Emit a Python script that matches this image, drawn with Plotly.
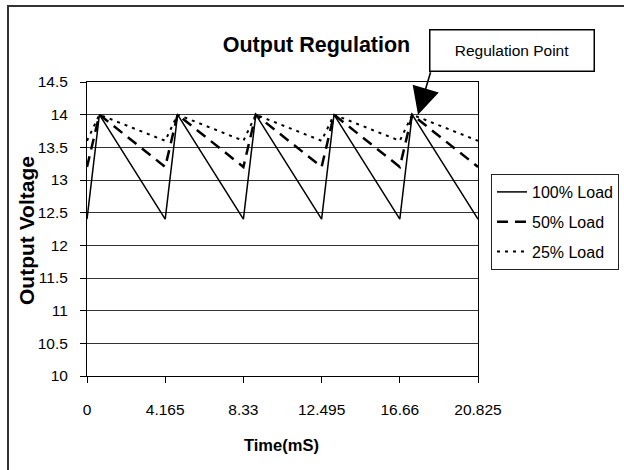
import plotly.graph_objects as go

# ---- data ----
time_ms = [0, 0.66, 4.165, 4.825, 8.33, 8.99, 12.495, 13.155, 16.66, 17.32, 20.825]
load_100 = [12.4, 14.0, 12.4, 14.0, 12.4, 14.0, 12.4, 14.0, 12.4, 14.0, 12.4]
load_50 = [13.2, 14.0, 13.2, 14.0, 13.2, 14.0, 13.2, 14.0, 13.2, 14.0, 13.2]
load_25 = [13.6, 14.0, 13.6, 14.0, 13.6, 14.0, 13.6, 14.0, 13.6, 14.0, 13.6]
x_ticks = [0, 4.165, 8.33, 12.495, 16.66, 20.825]
x_tick_labels = ["0", "4.165", "8.33", "12.495", "16.66", "20.825"]
y_ticks = [10, 10.5, 11, 11.5, 12, 12.5, 13, 13.5, 14, 14.5]
y_tick_labels = ["10", "10.5", "11", "11.5", "12", "12.5", "13", "13.5", "14", "14.5"]
reg_point = (17.63, 14.0)

FONT = "Liberation Sans, Arial, sans-serif"

# pixel geometry of the plot area
W, H = 624, 470
L, R, T, B = 87, 478, 82, 376
pw, ph = R - L, B - T


def px(x):
    return (x - L) / pw


def py(y):
    return (B - y) / ph


fig = go.Figure()
fig.add_trace(go.Scatter(x=time_ms, y=load_100, mode="lines", name="100% Load",
                         legendgroup="a",
                         line=dict(color="black", width=1.5)))
fig.add_trace(go.Scatter(x=time_ms, y=load_50, mode="lines", name="50% Load",
                         legendgroup="b",
                         line=dict(color="black", width=2.5, dash="11px,7px")))
fig.add_trace(go.Scatter(x=time_ms, y=load_25, mode="lines", name="25% Load",
                         legendgroup="c",
                         line=dict(color="black", width=2, dash="3px,5px")))

fig.update_layout(
    width=W, height=H,
    margin=dict(l=L, r=W - R, t=T, b=H - B, autoexpand=False),
    paper_bgcolor="white", plot_bgcolor="white",
    font=dict(family=FONT, color="black", size=15),
    title=dict(text="<b>Output Regulation</b>", xref="paper", yref="container",
               x=px(316.5), y=1 - 44 / H,
               xanchor="center", yanchor="middle",
               font=dict(family=FONT, size=21.5, color="black")),
    showlegend=True,
    legend=dict(x=px(491), y=py(174), xanchor="left", yanchor="top",
                bordercolor="#222", borderwidth=1, bgcolor="white",
                font=dict(family=FONT, size=16, color="black"),
                itemwidth=30, tracegroupgap=6),
    xaxis=dict(range=[0, 20.825], tickmode="array", tickvals=x_ticks,
               ticktext=x_tick_labels, showgrid=False, zeroline=False,
               showline=True, linecolor="black", linewidth=1, mirror=True,
               ticks="outside", ticklen=6, tickcolor="black",
               ticklabelstandoff=13,
               tickfont=dict(family=FONT, size=15.5, color="black")),
    yaxis=dict(range=[10, 14.5], tickmode="array", tickvals=y_ticks,
               ticktext=y_tick_labels, showgrid=True, gridcolor="#333",
               gridwidth=1, zeroline=False,
               showline=True, linecolor="black", linewidth=1, mirror=True,
               ticks="outside", ticklen=6, tickcolor="black",
               ticklabelstandoff=9,
               tickfont=dict(family=FONT, size=15.5, color="black")),
)

# axis titles
fig.add_annotation(text="<b>Time(mS)</b>", xref="paper", yref="paper",
                   x=px(281.5), y=py(445), showarrow=False,
                   xanchor="center", yanchor="middle",
                   font=dict(family=FONT, size=16.5, color="black"))
fig.add_annotation(text="<b>Output Voltage</b>", xref="paper", yref="paper",
                   x=px(26), y=py(231), showarrow=False, textangle=-90,
                   xanchor="center", yanchor="middle",
                   font=dict(family=FONT, size=21, color="black"))

# Regulation point callout box
fig.add_annotation(text="Regulation Point", xref="paper", yref="paper",
                   x=px(511.5), y=py(50.7), showarrow=False,
                   xanchor="center", yanchor="middle",
                   width=155, height=32, borderpad=4,
                   bordercolor="black", borderwidth=1.5, bgcolor="white",
                   font=dict(family=FONT, size=15.5, color="black"))
# arrow to the regulation point
fig.add_annotation(text="", x=reg_point[0], y=reg_point[1], xref="x", yref="y",
                   showarrow=True, ax=13, ay=-44, arrowhead=2,
                   arrowsize=3.4, arrowwidth=1.6, arrowcolor="black")

# outer chart border (extends past the right/bottom of the view)
fig.add_shape(type="rect", xref="paper", yref="paper",
              x0=px(8), y0=py(480), x1=px(640), y1=py(6),
              line=dict(color="#333", width=2), fillcolor="rgba(0,0,0,0)",
              layer="above")

fig.write_html("out.html",
               config={"displayModeBar": False},
               post_script="document.body.style.margin='0';")
